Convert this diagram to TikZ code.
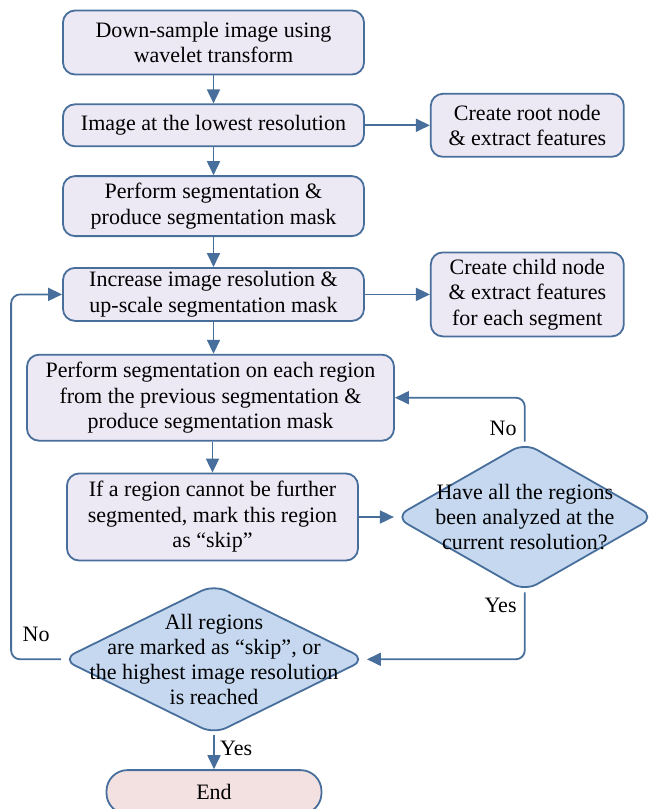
\documentclass[tikz,border=0pt]{standalone}
\usepackage{fontspec}
\setmainfont{Liberation Serif}
\usepackage{xcolor}
\usepackage{tikz}
\usetikzlibrary{arrows.meta, positioning, shapes.geometric}
\definecolor{edge}{RGB}{72,110,156}
\definecolor{stepfill}{RGB}{236,232,244}
\definecolor{askfill}{RGB}{197,216,240}
\definecolor{endfill}{RGB}{243,224,224}

\begin{document}
\begin{tikzpicture}[
  x=1pt, y=-1pt,
  node distance=28pt and 65pt,
  box/.style={draw=edge, line width=1.8pt, rounded corners=12pt, fill=stepfill,
              minimum width=301pt, align=center, inner xsep=1pt, inner ysep=2pt,
              font=\fontsize{22}{25.5}\selectfont},
  side/.style={box, minimum width=193pt},
  ask/.style={diamond, draw=edge, line width=1.8pt, rounded corners=14pt, fill=askfill,
              inner sep=0pt},
  asktext/.style={align=center, font=\fontsize{22}{25}\selectfont},
  stop/.style={box, rounded corners=21pt, fill=endfill, minimum width=215pt, minimum height=44pt},
  lbl/.style={font=\fontsize{22}{25}\selectfont},
  arr/.style={-{Triangle[length=14pt, width=13pt]}, draw=edge, line width=1.8pt,
              rounded corners=9pt}
]
  \useasboundingbox (0,0) rectangle (654,809);

  \node[box, minimum height=64pt] (down) at (213.5,42.5) {Down-sample image using\\wavelet transform};
  \node[box, minimum height=42pt, below=28pt of down] (lowres) {Image at the lowest resolution};
  \node[side, minimum height=63pt, right=65pt of lowres] (root) {Create root node\\\& extract features};
  \node[box, minimum height=60pt, below=28pt of lowres] (segm) {Perform segmentation \&\\produce segmentation mask};
  \node[box, minimum height=53pt, below=30pt of segm] (incr) {Increase image resolution \&\\up-scale segmentation mask};
  \node[side, minimum height=84pt, right=65pt of incr] (child) {Create child node\\\& extract features\\for each segment};
  \node[box, minimum width=367pt, minimum height=86pt, below=32pt of incr, xshift=-3pt] (region)
    {Perform segmentation on each region\\from the previous segmentation \&\\produce segmentation mask};
  \node[box, minimum width=291pt, minimum height=87pt, below=31pt of region, xshift=2pt] (mark)
    {If a region cannot be further\\segmented, mark this region\\as “skip”};

  \node[ask, minimum width=260pt, minimum height=149pt, right=35pt of mark] (check) {};
  \node[asktext] at (check) {Have all the regions\\been analyzed at the\\current resolution?};
  \node[ask, minimum width=304pt, minimum height=150pt, below=22pt of mark, xshift=1.5pt] (final) {};
  \node[asktext] at (final) {All regions\\are marked as “skip”, or\\the highest image resolution\\is reached};
  \node[stop, below=34pt of final] (end) {End};

  \draw[arr] (down) -- (lowres);
  \draw[arr] (lowres) -- (root);
  \draw[arr] (lowres) -- (segm);
  \draw[arr] (segm) -- (incr);
  \draw[arr] (incr) -- (child);
  \draw[arr] (incr) -- (region.north -| incr.south);
  \draw[arr] (region.south -| mark.north) -- (mark);
  \draw[arr] (mark) -- (check);
  \draw[arr] (check.north) |- node[lbl, pos=0.15, left=4pt] {No} (region.east);
  \draw[arr] (check.south) |- node[lbl, pos=0.1, left=4pt] {Yes} (final.east);
  \draw[arr] (final.west) -- ++(-50,0) node[lbl, midway, above=13pt] {No} |- (incr.west);
  \draw[arr] (final.south) -- node[lbl, right=2pt, pos=0.4] {Yes} (end);
\end{tikzpicture}
\end{document}
